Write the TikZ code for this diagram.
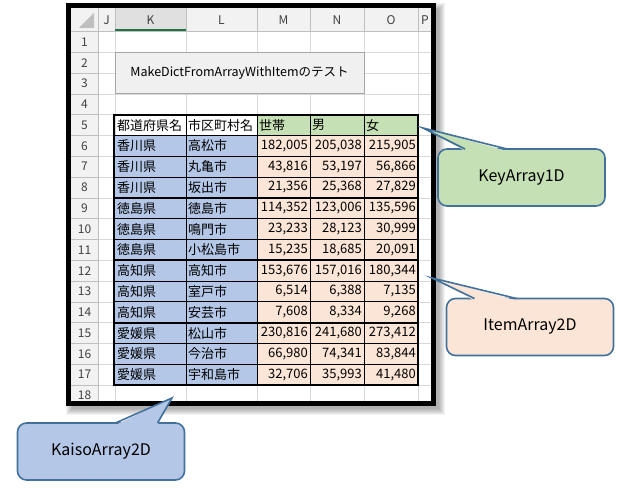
\documentclass[tikz,border=0pt]{standalone}
\usepackage{fontspec}
\setmainfont{Noto Sans CJK JP}
\usetikzlibrary{calc,positioning}
\definecolor{keyfill}{HTML}{C5E0B4}
\definecolor{itemfill}{HTML}{FBE5D6}
\definecolor{kaisofill}{HTML}{B4C7E7}
\definecolor{cline}{HTML}{41719C}
\definecolor{gridgray}{HTML}{D9D9D9}
\definecolor{hdrgray}{HTML}{F2F2F2}
\definecolor{hdrline}{HTML}{BFBFBF}
\definecolor{xlgreen}{HTML}{217346}
\definecolor{btnfill}{HTML}{F0F0F0}

\begin{document}
\begin{tikzpicture}[x=1pt,y=-1pt,
      txt/.style={inner sep=0pt, font=\fontsize{13}{15}\selectfont},
      cell/.style={txt, anchor=west},
      num/.style={txt, anchor=east},
      hdr/.style={inner sep=0pt, text=black!75, font=\fontsize{12}{14}\selectfont},
      callout/.style={draw=cline, line width=1.6pt, rounded corners=9pt, outer sep=0pt, inner sep=0pt,
         minimum width=167pt, minimum height=57pt, font=\fontsize{16}{18}\selectfont},
      pointer/.style={draw=cline, line width=1.6pt, line join=miter},
      thinrule/.style={line width=0.8pt},
      thickrule/.style={line width=1.8pt}
   ]
      \useasboundingbox (0,0) rectangle (624,494);

      % sheet with its shadow
      \foreach \s in {0,...,6}
         \fill[black,opacity=0.05] ({72-\s},{9-\s}) rectangle ({439+\s},{409+\s});
      \fill[white] (71,8) rectangle (431,401);
      \fill[hdrgray] (71,8) rectangle (431,31.5);
      \fill[hdrgray] (71,8) rectangle (98,401);
      \fill[black!12] (115,8) rectangle (186,31.5);

      % grid
      \foreach \x in {115,186,257,310,364,418} {
         \draw[gridgray] (\x,31.5) -- (\x,401);
         \draw[hdrline] (\x,8) -- (\x,31.5);
      }
      \foreach \r in {2,...,18} {
         \draw[gridgray] (98,{31.5+(\r-1)*20.8}) -- (431,{31.5+(\r-1)*20.8});
         \draw[hdrline] (71,{31.5+(\r-1)*20.8}) -- (98,{31.5+(\r-1)*20.8});
      }
      \draw[hdrline] (71,31.5) -- (431,31.5);
      \draw[hdrline] (98,8) -- (98,401);
      \draw[xlgreen, line width=2pt] (115,30.5) -- (186,30.5);
      \fill[hdrline] (94,13) -- (94,28) -- (79,28) -- cycle;

      \foreach \c/\x in {J/106.5,K/150.5,L/221.5,M/283.5,N/337,O/391,P/425}
         \node[hdr] (col\c) at (\x,20) {\c};
      \foreach \r in {1,...,18}
         \node[hdr] (row\r) at (84.5,{31.5+(\r-0.5)*20.8}) {\r};

      % table
      \fill[keyfill] (257,114.7) rectangle (418,135.5);
      \fill[kaisofill] (114,135.5) rectangle (257,385.1);
      \fill[itemfill] (257,135.5) rectangle (418,385.1);
      \foreach \x in {186,257,310,364}
         \draw[thinrule] (\x,114.7) -- (\x,385.1);
      \foreach \r in {6,7,8,10,11,13,14,16,17}
         \draw[thinrule] (114,{31.5+(\r-1)*20.8}) -- (418,{31.5+(\r-1)*20.8});
      \foreach \r in {9,12,15}
         \draw[thickrule] (114,{31.5+(\r-1)*20.8}) -- (418,{31.5+(\r-1)*20.8});
      \draw[thickrule] (114,114.7) rectangle (418,385.1);

      \node[draw=black!35, fill=btnfill, minimum width=249pt, minimum height=41pt, inner sep=0pt,
         font=\fontsize{12.5}{15}\selectfont] (btn) at (239.5,73) {MakeDictFromArrayWithItemのテスト};

      \foreach \t/\x [count=\i] in {都道府県名/117, 市区町村名/188, 世帯/259, 男/312, 女/366}
         \node[cell] (hd\i) at (\x,125.1) {\t};
      \foreach \r/\pf/\ct/\hh/\ml/\fm in {
            6/香川県/高松市/{182,005}/{205,038}/{215,905},
            7/香川県/丸亀市/{43,816}/{53,197}/{56,866},
            8/香川県/坂出市/{21,356}/{25,368}/{27,829},
            9/徳島県/徳島市/{114,352}/{123,006}/{135,596},
            10/徳島県/鳴門市/{23,233}/{28,123}/{30,999},
            11/徳島県/小松島市/{15,235}/{18,685}/{20,091},
            12/高知県/高知市/{153,676}/{157,016}/{180,344},
            13/高知県/室戸市/{6,514}/{6,388}/{7,135},
            14/高知県/安芸市/{7,608}/{8,334}/{9,268},
            15/愛媛県/松山市/{230,816}/{241,680}/{273,412},
            16/愛媛県/今治市/{66,980}/{74,341}/{83,844},
            17/愛媛県/宇和島市/{32,706}/{35,993}/{41,480}} {
         \pgfmathsetmacro\yc{31.5+(\r-0.5)*20.8}
         \node[cell] (pf\r) at (117,\yc) {\pf};
         \node[cell] (ct\r) at (188,\yc) {\ct};
         \node[num] (hh\r) at (308,\yc) {\hh};
         \node[num] (ml\r) at (362,\yc) {\ml};
         \node[num] (fm\r) at (416,\yc) {\fm};
      }

      % frame
      \draw[line width=5pt] (68.5,5.5) rectangle (433.5,403.5);

      % callouts
      \node[callout, fill=keyfill] (key) at (521.5,177.5) {KeyArray1D};
      \node[callout, fill=itemfill] (item) at (530,327) {ItemArray2D};
      \node[callout, fill=kaisofill] (kaiso) at (101,451.5) {KaisoArray2D};
      \coordinate (keytip) at (423,128);
      \coordinate (itemtip) at (432,278);
      \coordinate (kaisotip) at (172,398);
      \foreach \n/\t/\a/\b/\c in {key/keytip/27/69/keyfill, item/itemtip/28/70/itemfill, kaiso/kaisotip/98/140/kaisofill} {
         \fill[\c] ([xshift=\a pt,yshift=-2pt]\n.north west) -- (\t) -- ([xshift=\b pt,yshift=-2pt]\n.north west) -- cycle;
         \draw[pointer] ([xshift=\a pt]\n.north west) -- (\t) -- ([xshift=\b pt]\n.north west);
      }
   \end{tikzpicture}
\end{document}
